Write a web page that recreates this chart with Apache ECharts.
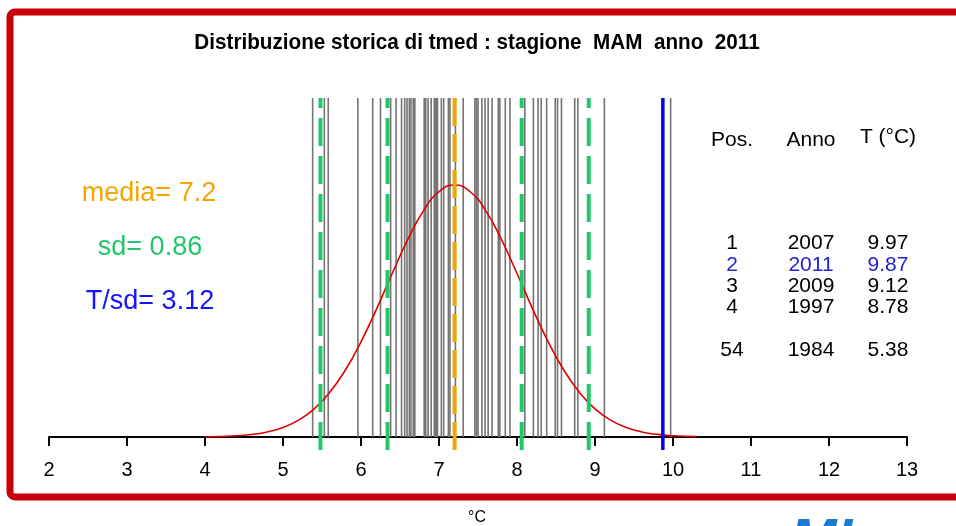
<!DOCTYPE html>
<html>
<head>
<meta charset="utf-8">
<script src="https://cdn.jsdelivr.net/npm/echarts@6/dist/echarts.min.js"></script>
<style>html,body{margin:0;padding:0;background:#fff;}#c{width:956px;height:526px;}</style>
</head>
<body>
<div id="c"></div>
<script>
// ---- data ----
const titleText = 'Distribuzione storica di tmed : stagione  MAM  anno  2011';
const xLabel = '°C';
const xTicks = [2, 3, 4, 5, 6, 7, 8, 9, 10, 11, 12, 13];
// seasonal mean temperatures (one value per year)
const yearValues = [5.38, 5.53, 5.58, 5.96, 6.15, 6.25, 6.38, 6.45, 6.52, 6.56,
  6.59, 6.62, 6.64, 6.67, 6.68, 6.69, 6.81, 6.83, 6.86, 6.90,
  6.94, 6.96, 6.97, 6.98, 7.03, 7.06, 7.12, 7.14, 7.21, 7.31,
  7.46, 7.48, 7.50, 7.55, 7.59, 7.63, 7.68, 7.76, 7.78, 7.85,
  7.91, 8.10, 8.21, 8.27, 8.31, 8.38, 8.49, 8.52, 8.57, 8.74,
  8.78, 9.12, 9.87, 9.97];
const mediaVal = 7.2;
const sdVal = 0.86;
const tsdVal = 3.12;
const currentVal = 9.87;
const sdLines = [5.48, 6.34, 8.06, 8.92];
// red density curve
const curveX = [4.0, 4.4, 4.6, 4.8, 5.0, 5.2, 5.4, 5.6, 5.8, 6.0, 6.2, 6.4, 6.6, 6.8, 7.0, 7.2,
  7.4, 7.6, 7.8, 8.0, 8.2, 8.4, 8.6, 8.8, 9.0, 9.2, 9.4, 9.6, 9.8, 10.0, 10.3];
const curveY = [0.0005, 0.0023, 0.0048, 0.0094, 0.0176, 0.0310, 0.0519, 0.0823, 0.1233, 0.1753, 0.2359, 0.3010, 0.3637, 0.4164, 0.4515, 0.4639,
  0.4515, 0.4164, 0.3637, 0.3010, 0.2359, 0.1753, 0.1233, 0.0823, 0.0519, 0.0310, 0.0176, 0.0094, 0.0048, 0.0023, 0.0008];
// ranking table
const tableHeader = ['Pos.', 'Anno', 'T (°C)'];
const tablePos = ['1', '2', '3', '4', '54'];
const tableYear = ['2007', '2011', '2009', '1997', '1984'];
const tableTemp = ['9.97', '9.87', '9.12', '8.78', '5.38'];
const highlightRow = 1;

// ---- chart ----
const Y_MIN = -0.0239, Y_MAX = 0.6241;
const chart = echarts.init(document.getElementById('c'), null, {renderer: 'canvas'});

function vline(color, width, dash, y0) {
  return function (params, api) {
    const p0 = api.coord([api.value(0), y0]);
    const p1 = api.coord([api.value(0), Y_MAX]);
    return {
      type: 'line',
      shape: {x1: p0[0], y1: p0[1], x2: p1[0], y2: p1[1]},
      style: {stroke: color, lineWidth: width, lineDash: dash}
    };
  };
}

const FONT = '"Liberation Sans", Arial, Helvetica, sans-serif';
const rowsY = [243, 265, 286, 307, 350];
const colX = [732, 811, 888];
const graphics = [];
graphics.push({type: 'rect', shape: {x: 10, y: 12, width: 960, height: 485, r: 5},
  style: {stroke: '#c8000a', lineWidth: 7, fill: 'none'}, z: 100});
graphics.push({type: 'text', x: 477, y: 43, scaleX: 0.94, style: {text: titleText, font: 'bold 22px ' + FONT, fill: '#000', textAlign: 'center', textVerticalAlign: 'middle'}});
graphics.push({type: 'text', x: 149, y: 194, style: {text: 'media= ' + mediaVal, font: '27px ' + FONT, fill: '#f5a500', textAlign: 'center', textVerticalAlign: 'middle'}});
graphics.push({type: 'text', x: 150, y: 248, style: {text: 'sd= ' + sdVal, font: '27px ' + FONT, fill: '#22c66b', textAlign: 'center', textVerticalAlign: 'middle'}});
graphics.push({type: 'text', x: 150, y: 302, style: {text: 'T/sd= ' + tsdVal, font: '27px ' + FONT, fill: '#1414ff', textAlign: 'center', textVerticalAlign: 'middle'}});
const headY = [140, 140, 137];
tableHeader.forEach((h, i) => graphics.push({type: 'text', x: colX[i], y: headY[i], style: {text: h, font: '21px ' + FONT, fill: '#000', textAlign: 'center', textVerticalAlign: 'middle'}}));
[tablePos, tableYear, tableTemp].forEach((col, ci) => col.forEach((t, ri) => graphics.push({
  type: 'text', x: colX[ci], y: rowsY[ri],
  style: {text: t, font: '21px ' + FONT, fill: ri === highlightRow ? '#2222d0' : '#000', textAlign: 'center', textVerticalAlign: 'middle'}
})));
graphics.push({type: 'text', x: 477, y: 518, style: {text: xLabel, font: '16px ' + FONT, fill: '#000', textAlign: 'center', textVerticalAlign: 'middle'}});
graphics.push({type: 'text', x: 790, y: 514, style: {text: 'MI', font: 'italic bold 56px ' + FONT, fill: '#1c78d0', textAlign: 'left', textVerticalAlign: 'top'}});

chart.setOption({
  animation: false,
  backgroundColor: '#fff',
  grid: {left: 49, right: 49, top: 98, bottom: 76, containLabel: false},
  xAxis: {
    type: 'value', min: xTicks[0], max: xTicks[xTicks.length - 1], interval: 1,
    axisLine: {onZero: true, lineStyle: {color: '#000', width: 2}},
    axisTick: {show: true, length: 9, lineStyle: {color: '#000', width: 2}},
    axisLabel: {color: '#000', fontSize: 20, fontFamily: FONT, margin: 10},
    splitLine: {show: false}
  },
  yAxis: {type: 'value', min: Y_MIN, max: Y_MAX, show: false, splitLine: {show: false}},
  series: [
    {type: 'custom', z: 2, renderItem: vline('#747474', 1.6, null, 0), data: yearValues.map(v => [v]), silent: true},
    {type: 'line', z: 3, data: curveX.map((x, i) => [x, curveY[i]]), smooth: true, showSymbol: false,
      lineStyle: {color: '#e00000', width: 1.6}, silent: true},
    {type: 'custom', z: 4, renderItem: vline('#20c86a', 4, [28, 10], Y_MIN), data: sdLines.map(v => [v]), silent: true},
    {type: 'custom', z: 5, renderItem: vline('#f5a500', 4, [28, 8], Y_MIN), data: [[mediaVal]], silent: true},
    {type: 'custom', z: 6, renderItem: vline('#0000ee', 3.5, null, Y_MIN), data: [[currentVal]], silent: true}
  ],
  graphic: graphics
});
</script>
</body>
</html>
